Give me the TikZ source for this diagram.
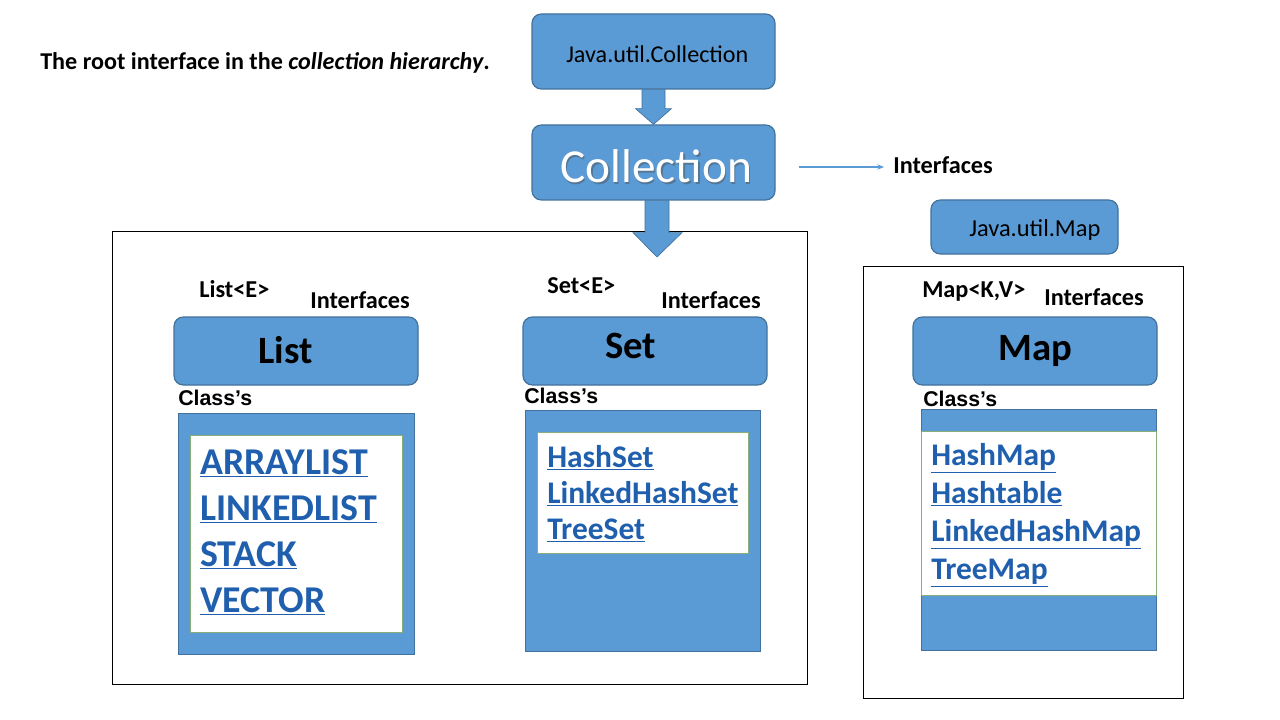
\documentclass[tikz,border=0pt]{standalone}
\usepackage{fontspec}
\setmainfont{Carlito}
\newfontfamily\arialf{Liberation Sans}
\usetikzlibrary{calc,arrows.meta}
\definecolor{boxblue}{HTML}{5B9BD5}
\definecolor{boxedge}{HTML}{41719C}
\definecolor{linkblue}{HTML}{1F5FAE}
\definecolor{innerline}{HTML}{8AAE7A}
\newcommand{\fsz}[1]{\fontsize{#1}{#1}\selectfont}
\begin{document}
\begin{tikzpicture}[x=0.75pt,y=-0.75pt,
  rbox/.style={draw=boxedge, fill=boxblue, line width=0.9pt, rounded corners=7pt, inner sep=0pt},
  cbox/.style={draw=boxedge, fill=boxblue, line width=0.75pt, inner sep=0pt},
  wbox/.style={draw=innerline, fill=white, line width=0.6pt, inner sep=0pt},
  frame/.style={draw=black, line width=0.75pt, inner sep=0pt},
  wh/.style 2 args={minimum width=#1*0.75pt, minimum height=#2*0.75pt},
  txt/.style={inner sep=0pt, anchor=base west},
  lbl/.style={txt, font=\fsz{18.2pt}\bfseries},
  big/.style={txt, font=\fsz{29pt}\bfseries},
  cls/.style={txt, font=\arialf\fsz{16pt}\bfseries},
  lnkA/.style={txt, text=linkblue, font=\fsz{28.4pt}\bfseries},
  lnkB/.style={txt, text=linkblue, font=\fsz{23.6pt}\bfseries},
  blk/.style={fill=boxblue, draw=boxedge, line width=0.5pt}
]
\useasboundingbox (0,0) rectangle (1280,720);
\fill[white] (0,0) rectangle (1280,720);

% title
\node[txt, font=\fsz{18.1pt}\bfseries] (title) at (40,70) {The root interface in the \textit{collection hierarchy}.};

% top boxes
\node[rbox, wh={243}{75}] (jc) at (653.5,51.5) {};
\node[txt, font=\fsz{18.1pt}] (jct) at (566,63) {Java.util.Collection};
\node[rbox, wh={243}{75}] (coll) at (653.5,162.5) {};
\node[txt, font=\fsz{35.5pt}, text=black!70, opacity=0.45] (collsh) at (561.5,184.5) {Collection};
\node[txt, font=\fsz{35.5pt}, text=white] (collt) at (560,183) {Collection};

% block arrow jc -> coll
\draw[blk] ($(jc.south)+(-11.5,0)$) -- ($(jc.south)+(11.5,0)$) -- ($(jc.south)+(11.5,19)$)
  -- ($(jc.south)+(18,19)$) -- (coll.north) -- ($(jc.south)+(-18,19)$) -- ($(jc.south)+(-11.5,19)$) -- cycle;

% interfaces label with thin arrow
\node[lbl] (intf) at (893,174) {Interfaces};
\draw[boxblue, line width=0.8pt, -{Stealth[length=5pt,width=4pt]}] ($(coll.east)+(23,4.5)$) -- ($(intf.base west)+(-9,-7)$);

% frames
\node[frame, wh={695}{452}] (lframe) at (459.5,458) {};
\node[frame, wh={320}{432}] (rframe) at (1023,482) {};

% block arrow coll -> frame
\coordinate (tip2) at (657,257);
\draw[blk] ($(coll.south)+(-8.5,0)$) -- ($(coll.south)+(15.5,0)$) -- ($(coll.south)+(15.5,32)$)
  -- ($(coll.south)+(28.5,32)$) -- (tip2) -- ($(coll.south)+(-20.5,32)$) -- ($(coll.south)+(-8.5,32)$) -- cycle;

% Map top box
\node[rbox, wh={187}{54}] (jm) at (1024.5,227) {};
\node[txt, font=\fsz{18.3pt}] (jmt) at (969,237) {Java.util.Map};

% ---- List column
\node[lbl] (liste) at (199,297) {List<E>};
\node[lbl] (listi) at (310,308) {Interfaces};
\node[rbox, wh={244}{68}] (list) at (296,351) {};
\node[big] (listt) at (258,363) {List};
\node[cls] (listc) at (178,405) {Class’s};
\node[cbox, wh={236}{241}] (listb) at (296,533.5) {};
\node[wbox, wh={212}{197}] (listw) at (296,533.5) {};
\node[lnkA] (l1) at (200,474) {\underline{ARRAYLIST}};
\node[lnkA] (l2) at (200,520) {\underline{LINKEDLIST}};
\node[lnkA] (l3) at (200,566) {\underline{STACK}};
\node[lnkA] (l4) at (200,612) {\underline{VECTOR}};

% ---- Set column
\node[lbl] (sete) at (547,293) {Set<E>};
\node[lbl] (seti) at (661,308) {Interfaces};
\node[rbox, wh={244}{68}] (set) at (645,351) {};
\node[big] (sett) at (605,358) {Set};
\node[cls] (setc) at (524,403) {Class’s};
\node[cbox, wh={235}{241}] (setb) at (642.5,530.5) {};
\node[wbox, wh={211}{121}] (setw) at (642.5,492.5) {};
\node[lnkB] (s1) at (547,467) {\underline{HashSet}};
\node[lnkB] (s2) at (547,503) {\underline{LinkedHashSet}};
\node[lnkB] (s3) at (547,539) {\underline{TreeSet}};

% ---- Map column
\node[lbl] (mape) at (922,297) {Map<K,V>};
\node[lbl] (mapi) at (1044,305) {Interfaces};
\node[rbox, wh={244}{68}] (map) at (1035,351) {};
\node[big] (mapt) at (998,360) {Map};
\node[cls] (mapc) at (923,406) {Class’s};
\node[cbox, wh={235}{241}] (mapb) at (1038.5,529.5) {};
\node[wbox, wh={235}{164}] (mapw) at (1038.5,513) {};
\node[lnkB] (m1) at (931,465) {\underline{HashMap}};
\node[lnkB] (m2) at (931,503) {\underline{Hashtable}};
\node[lnkB] (m3) at (931,541) {\underline{LinkedHashMap}};
\node[lnkB] (m4) at (931,579) {\underline{TreeMap}};
\end{tikzpicture}
\end{document}
